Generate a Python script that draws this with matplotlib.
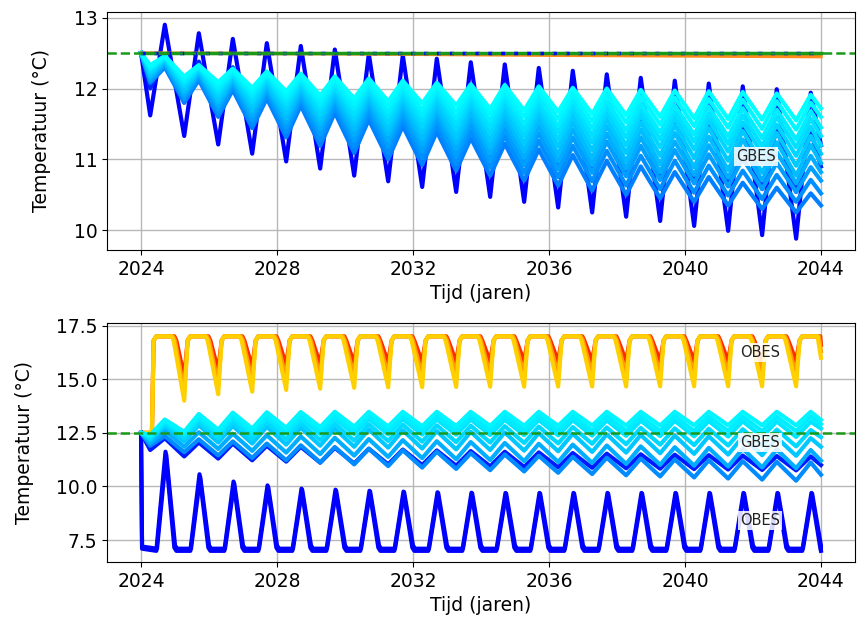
import matplotlib
matplotlib.use("Agg")
import matplotlib.pyplot as plt

# ---------------- data ----------------
YEARS = list(range(2024, 2044))          # 20 seasonal cycles
T_START, T_END = 2024.0, 2044.0
T0 = 12.5                                # start / reference temperature
TROUGH_PHASE, PEAK_PHASE = 0.27, 0.70    # position of trough / peak within a year

# --- top panel: GBES variants (blue -> cyan) ---
top_dark_peaks = [12.90, 12.78, 12.70, 12.64, 12.60, 12.55, 12.49, 12.47, 12.42, 12.37,
                  12.34, 12.29, 12.25, 12.20, 12.15, 12.11, 12.07, 12.03, 11.99, 11.94]
top_dark_troughs = [11.62, 11.33, 11.21, 11.08, 10.97, 10.87, 10.77, 10.69, 10.61, 10.54,
                    10.47, 10.40, 10.32, 10.25, 10.19, 10.13, 10.06, 9.99, 9.93, 9.88]
top_dark_end = 11.2

top_mid_peaks = [12.45, 12.38, 12.30, 12.22, 12.16, 12.10, 12.04, 11.98, 11.93, 11.88,
                 11.83, 11.78, 11.74, 11.69, 11.64, 11.60, 11.55, 11.50, 11.45, 11.40]
top_mid_troughs = [12.00, 11.80, 11.66, 11.54, 11.44, 11.35, 11.27, 11.19, 11.12, 11.05,
                   10.99, 10.93, 10.87, 10.82, 10.77, 10.72, 10.67, 10.62, 10.58, 10.54]
top_mid_end = 10.9

top_l7_peaks = [12.30, 12.12, 11.98, 11.86, 11.76, 11.66, 11.56, 11.47, 11.39, 11.30,
                11.22, 11.14, 11.06, 10.98, 10.90, 10.82, 10.75, 10.67, 10.60, 10.52]
top_l7_troughs = [12.08, 11.80, 11.60, 11.44, 11.31, 11.19, 11.09, 11.00, 10.92, 10.84,
                  10.77, 10.70, 10.63, 10.56, 10.50, 10.45, 10.40, 10.35, 10.30, 10.25]
top_l7_end = 10.35

top_l67_peaks = [12.32, 12.15, 12.02, 11.91, 11.82, 11.73, 11.64, 11.56, 11.48, 11.40,
                 11.33, 11.26, 11.19, 11.12, 11.05, 10.98, 10.91, 10.84, 10.78, 10.71]
top_l67_troughs = [12.10, 11.84, 11.65, 11.50, 11.38, 11.27, 11.18, 11.09, 11.02, 10.94,
                   10.88, 10.81, 10.75, 10.69, 10.63, 10.58, 10.53, 10.49, 10.44, 10.40]
top_l67_end = 10.52

top_l6_peaks = [12.34, 12.18, 12.06, 11.96, 11.87, 11.79, 11.71, 11.64, 11.57, 11.50,
                11.43, 11.37, 11.31, 11.25, 11.19, 11.13, 11.07, 11.01, 10.95, 10.89]
top_l6_troughs = [12.12, 11.87, 11.70, 11.56, 11.45, 11.35, 11.26, 11.18, 11.11, 11.04,
                  10.98, 10.92, 10.86, 10.81, 10.76, 10.71, 10.66, 10.62, 10.58, 10.54]
top_l6_end = 10.7

top_l56_peaks = [12.36, 12.21, 12.10, 12.00, 11.92, 11.85, 11.78, 11.71, 11.65, 11.59,
                 11.53, 11.47, 11.42, 11.36, 11.31, 11.25, 11.20, 11.15, 11.10, 11.05]
top_l56_troughs = [12.15, 11.91, 11.75, 11.62, 11.52, 11.43, 11.34, 11.27, 11.20, 11.14,
                   11.08, 11.02, 10.97, 10.92, 10.87, 10.82, 10.78, 10.74, 10.70, 10.66]
top_l56_end = 10.82

top_l5_peaks = [12.38, 12.23, 12.13, 12.04, 11.97, 11.90, 11.84, 11.78, 11.72, 11.67,
                11.62, 11.57, 11.52, 11.47, 11.42, 11.37, 11.32, 11.28, 11.24, 11.20]
top_l5_troughs = [12.17, 11.95, 11.80, 11.68, 11.58, 11.50, 11.42, 11.35, 11.29, 11.23,
                  11.17, 11.12, 11.07, 11.02, 10.97, 10.93, 10.89, 10.85, 10.81, 10.77]
top_l5_end = 10.95

top_l45_peaks = [12.40, 12.25, 12.16, 12.08, 12.02, 11.95, 11.90, 11.84, 11.79, 11.75,
                 11.70, 11.66, 11.61, 11.57, 11.52, 11.48, 11.44, 11.40, 11.37, 11.33]
top_l45_troughs = [12.20, 11.99, 11.85, 11.74, 11.65, 11.57, 11.50, 11.43, 11.38, 11.32,
                   11.27, 11.22, 11.18, 11.13, 11.09, 11.05, 11.02, 10.98, 10.95, 10.91]
top_l45_end = 11.08

top_l4_peaks = [12.42, 12.27, 12.19, 12.12, 12.06, 12.00, 11.95, 11.90, 11.86, 11.82,
                11.78, 11.74, 11.70, 11.66, 11.62, 11.58, 11.55, 11.52, 11.49, 11.46]
top_l4_troughs = [12.23, 12.03, 11.90, 11.80, 11.72, 11.64, 11.57, 11.51, 11.46, 11.41,
                  11.36, 11.32, 11.28, 11.24, 11.20, 11.17, 11.14, 11.11, 11.08, 11.05]
top_l4_end = 11.2

top_l35_peaks = [12.43, 12.29, 12.21, 12.15, 12.10, 12.04, 12.00, 11.95, 11.92, 11.88,
                 11.85, 11.81, 11.78, 11.74, 11.71, 11.67, 11.65, 11.62, 11.60, 11.57]
top_l35_troughs = [12.26, 12.07, 11.95, 11.86, 11.78, 11.71, 11.64, 11.59, 11.54, 11.50,
                   11.45, 11.41, 11.38, 11.34, 11.31, 11.28, 11.25, 11.22, 11.19, 11.17]
top_l35_end = 11.33

top_l3_peaks = [12.44, 12.30, 12.23, 12.18, 12.13, 12.08, 12.04, 12.00, 11.97, 11.94,
                11.91, 11.88, 11.85, 11.82, 11.79, 11.76, 11.74, 11.72, 11.70, 11.68]
top_l3_troughs = [12.28, 12.10, 11.99, 11.91, 11.84, 11.77, 11.71, 11.66, 11.62, 11.58,
                  11.54, 11.50, 11.47, 11.44, 11.41, 11.38, 11.35, 11.32, 11.30, 11.28]
top_l3_end = 11.45

top_l2_peaks = [12.45, 12.32, 12.26, 12.21, 12.17, 12.13, 12.09, 12.06, 12.03, 12.00,
                11.98, 11.96, 11.93, 11.91, 11.89, 11.87, 11.85, 11.84, 11.82, 11.80]
top_l2_troughs = [12.30, 12.14, 12.04, 11.96, 11.90, 11.84, 11.79, 11.74, 11.70, 11.67,
                  11.63, 11.60, 11.57, 11.54, 11.52, 11.49, 11.47, 11.45, 11.43, 11.42]
top_l2_end = 11.6

top_l1_peaks = [12.46, 12.33, 12.28, 12.24, 12.21, 12.17, 12.14, 12.11, 12.08, 12.06,
                12.05, 12.03, 12.01, 12.00, 11.98, 11.97, 11.96, 11.95, 11.93, 11.91]
top_l1_troughs = [12.33, 12.17, 12.09, 12.01, 11.96, 11.90, 11.86, 11.82, 11.79, 11.76,
                  11.71, 11.69, 11.67, 11.64, 11.62, 11.60, 11.58, 11.57, 11.56, 11.55]
top_l1_end = 11.72

# reference / near-constant lines in the top panel
orange_t = [2024.0, 2030.0, 2036.0, 2044.0]
orange_v = [12.50, 12.49, 12.47, 12.45]

# --- bottom panel: GBES band ---
bot_g1_peaks = [13.12, 13.38, 13.44, 13.46, 13.47, 13.48, 13.48, 13.48, 13.48, 13.48,
                13.48, 13.48, 13.48, 13.48, 13.48, 13.48, 13.48, 13.48, 13.48, 13.48]
bot_g1_troughs = [12.40, 12.55, 12.65, 12.70, 12.74, 12.77, 12.79, 12.80, 12.81, 12.82,
                  12.82, 12.83, 12.83, 12.84, 12.84, 12.84, 12.85, 12.85, 12.85, 12.85]
bot_g1_end = 13.1

bot_g15_peaks = [13.06, 13.27, 13.31, 13.32, 13.32, 13.32, 13.31, 13.31, 13.30, 13.30,
                 13.29, 13.29, 13.28, 13.28, 13.27, 13.27, 13.26, 13.26, 13.25, 13.25]
bot_g15_troughs = [12.35, 12.48, 12.55, 12.58, 12.60, 12.61, 12.61, 12.61, 12.61, 12.61,
                   12.61, 12.61, 12.60, 12.60, 12.60, 12.59, 12.59, 12.59, 12.58, 12.58]
bot_g15_end = 12.9

bot_g2_peaks = [13.00, 13.15, 13.18, 13.18, 13.17, 13.16, 13.15, 13.14, 13.13, 13.12,
                13.11, 13.10, 13.09, 13.08, 13.07, 13.06, 13.05, 13.04, 13.03, 13.02]
bot_g2_troughs = [12.30, 12.40, 12.45, 12.46, 12.46, 12.45, 12.44, 12.43, 12.42, 12.41,
                  12.40, 12.39, 12.38, 12.37, 12.36, 12.35, 12.34, 12.33, 12.32, 12.31]
bot_g2_end = 12.7

bot_g25_peaks = [12.90, 13.00, 13.00, 12.98, 12.95, 12.93, 12.90, 12.88, 12.85, 12.83,
                 12.81, 12.79, 12.77, 12.75, 12.73, 12.71, 12.69, 12.67, 12.65, 12.63]
bot_g25_troughs = [12.22, 12.25, 12.25, 12.23, 12.20, 12.17, 12.14, 12.12, 12.09, 12.07,
                   12.05, 12.03, 12.01, 11.99, 11.97, 11.95, 11.93, 11.91, 11.89, 11.87]
bot_g25_end = 12.3

bot_g3_peaks = [12.80, 12.85, 12.82, 12.78, 12.74, 12.70, 12.66, 12.62, 12.58, 12.55,
                12.52, 12.49, 12.46, 12.43, 12.40, 12.37, 12.34, 12.31, 12.28, 12.25]
bot_g3_troughs = [12.15, 12.10, 12.05, 12.00, 11.95, 11.90, 11.85, 11.81, 11.77, 11.73,
                  11.70, 11.67, 11.64, 11.61, 11.58, 11.55, 11.52, 11.49, 11.46, 11.43]
bot_g3_end = 11.85

bot_g35_peaks = [12.60, 12.53, 12.46, 12.39, 12.33, 12.27, 12.21, 12.16, 12.11, 12.07,
                 12.03, 11.99, 11.95, 11.91, 11.87, 11.83, 11.80, 11.76, 11.73, 11.70]
bot_g35_troughs = [12.02, 11.85, 11.75, 11.66, 11.58, 11.51, 11.44, 11.38, 11.32, 11.27,
                   11.23, 11.18, 11.14, 11.10, 11.05, 11.01, 10.97, 10.93, 10.89, 10.85]
bot_g35_end = 11.2

bot_g4_peaks = [12.35, 12.20, 12.10, 12.00, 11.92, 11.84, 11.76, 11.69, 11.62, 11.55,
                11.49, 11.43, 11.38, 11.34, 11.30, 11.26, 11.22, 11.18, 11.15, 11.12]
bot_g4_troughs = [11.90, 11.60, 11.45, 11.33, 11.22, 11.12, 11.03, 10.95, 10.88, 10.82,
                  10.76, 10.70, 10.64, 10.58, 10.52, 10.47, 10.42, 10.37, 10.32, 10.27]
bot_g4_end = 10.55

bot_g5_peaks = [12.25, 12.05, 12.00, 11.90, 11.85, 11.80, 11.76, 11.72, 11.68, 11.65,
                11.62, 11.59, 11.56, 11.53, 11.50, 11.48, 11.46, 11.44, 11.42, 11.40]
bot_g5_troughs = [11.70, 11.40, 11.30, 11.22, 11.16, 11.11, 11.07, 11.03, 11.00, 10.97,
                  10.94, 10.91, 10.89, 10.87, 10.85, 10.83, 10.81, 10.79, 10.77, 10.75]
bot_g5_end = 11.0

# --- bottom panel: OBES warm well (red -> yellow) ---
WARM_PLATEAU = 17.0
warm_red_troughs = [15.10, 15.40, 15.55, 15.65, 15.70, 15.74, 15.77, 15.79, 15.80, 15.81,
                    15.82, 15.82, 15.83, 15.83, 15.83, 15.84, 15.84, 15.84, 15.84]
warm_orange_troughs = [14.40, 14.75, 14.90, 15.00, 15.05, 15.10, 15.12, 15.14, 15.15, 15.16,
                       15.17, 15.18, 15.18, 15.18, 15.19, 15.19, 15.19, 15.19, 15.19]
warm_yellow_troughs = [14.00, 14.30, 14.42, 14.50, 14.56, 14.60, 14.62, 14.63, 14.64, 14.65,
                       14.65, 14.66, 14.66, 14.66, 14.67, 14.67, 14.67, 14.67, 14.67]
warm_ends = [16.6, 16.3, 16.0]

# --- bottom panel: OBES cold well (blue) ---
COLD_BASE = [7.1, 7.0]
cold_peaks_a = [11.62, 10.57, 10.23, 10.05, 9.90, 9.85, 9.80, 9.76, 9.73, 9.71,
                9.70, 9.70, 9.70, 9.70, 9.70, 9.70, 9.70, 9.70, 9.70, 9.70]
cold_peaks_b = [11.50, 10.45, 10.15, 9.98, 9.85, 9.80, 9.76, 9.73, 9.70, 9.68,
                9.67, 9.67, 9.67, 9.67, 9.67, 9.67, 9.67, 9.67, 9.67, 9.67]

# label positions (year, temperature)
top_labels = [("GBES", 2042.1, 11.04)]
bot_labels = [("OBES", 2042.2, 16.24), ("GBES", 2042.2, 12.06), ("OBES", 2042.2, 8.43)]


# ---------------- helpers ----------------
def zigzag(troughs, peaks, end):
    t, v = [T_START], [T0]
    for y, tr, pk in zip(YEARS, troughs, peaks):
        t += [y + TROUGH_PHASE, y + PEAK_PHASE]
        v += [tr, pk]
    t.append(T_END)
    v.append(end)
    return t, v


def warm_curve(troughs, end, fall_start):
    t = [T_START, 2024.32, 2024.37, 2024.45]
    v = [T0, T0, WARM_PLATEAU - 0.2, WARM_PLATEAU]
    for y, tr in zip(YEARS[:-1], troughs):
        t += [y + fall_start, y + fall_start + 0.06, y + 1.27, y + 1.37, y + 1.45]
        v += [WARM_PLATEAU, WARM_PLATEAU - 0.2, tr, WARM_PLATEAU - 0.2, WARM_PLATEAU]
    t += [YEARS[-1] + fall_start, T_END]
    v += [WARM_PLATEAU, end]
    return t, v


def cold_curve(peaks, base, shift):
    t, v = [T_START, 2024.03], [T0, base + 0.1]
    for y, pk in zip(YEARS, peaks):
        t += [y + 0.45 + shift, y + 0.72 + shift, y + 0.98 + shift, y + 1.04 + shift]
        v += [base, pk, base + 0.15, base]
    t[-1] = T_END
    return t, v


def blue_cyan(g):
    return (0.0, g, 1.0)


# ---------------- figure ----------------
plt.rcParams['font.family'] = ['DejaVu Sans']
fig = plt.figure(figsize=(8.57, 6.25), dpi=100)
ax1 = fig.add_axes([0.1249, 0.600, 0.8727, 0.3808])
ax2 = fig.add_axes([0.1249, 0.1008, 0.8727, 0.3824])

LW = 3.0
for ax in (ax1, ax2):
    ax.grid(True, color='#b8b8b8', linewidth=1.0)
    ax.set_axisbelow(True)

# top panel (darkest first, cyan last on top)
top_series = [
    (top_dark_troughs, top_dark_peaks, top_dark_end, 0.0),
    (top_mid_troughs, top_mid_peaks, top_mid_end, 0.15),
    (top_l7_troughs, top_l7_peaks, top_l7_end, 0.50),
    (top_l67_troughs, top_l67_peaks, top_l67_end, 0.56),
    (top_l6_troughs, top_l6_peaks, top_l6_end, 0.62),
    (top_l56_troughs, top_l56_peaks, top_l56_end, 0.68),
    (top_l5_troughs, top_l5_peaks, top_l5_end, 0.74),
    (top_l45_troughs, top_l45_peaks, top_l45_end, 0.79),
    (top_l4_troughs, top_l4_peaks, top_l4_end, 0.84),
    (top_l35_troughs, top_l35_peaks, top_l35_end, 0.88),
    (top_l3_troughs, top_l3_peaks, top_l3_end, 0.93),
    (top_l2_troughs, top_l2_peaks, top_l2_end, 0.97),
    (top_l1_troughs, top_l1_peaks, top_l1_end, 1.0),
]
for tr, pk, end, g in top_series:
    t, v = zigzag(tr, pk, end)
    ax1.plot(t, v, color=blue_cyan(g), linewidth=LW)

ax1.plot(orange_t, orange_v, color='#ff8c1a', linewidth=2.5)
ax1.plot([T_START, T_END], [T0, T0], color='#1a9a1a', linewidth=2.5)
ax1.plot([T_START, T_END], [T0, T0], color='#0000ff', linewidth=2.5,
         linestyle=(0, (1.2, 2.5)))
ax1.axhline(T0, color='#1a9a1a', linestyle='--', linewidth=1.8)

# bottom panel
for tr, end, fs, col in zip([warm_red_troughs, warm_orange_troughs, warm_yellow_troughs],
                            warm_ends, [0.98, 0.94, 0.90],
                            ['#ff2a00', '#ff9900', '#ffd000']):
    t, v = warm_curve(tr, end, fs)
    ax2.plot(t, v, color=col, linewidth=LW)

for pk, base, sh in zip([cold_peaks_b, cold_peaks_a], COLD_BASE, [0.02, 0.0]):
    t, v = cold_curve(pk, base, sh)
    ax2.plot(t, v, color='#0000ff', linewidth=LW)

bot_series = [
    (bot_g5_troughs, bot_g5_peaks, bot_g5_end, 0.10),
    (bot_g4_troughs, bot_g4_peaks, bot_g4_end, 0.55),
    (bot_g35_troughs, bot_g35_peaks, bot_g35_end, 0.68),
    (bot_g3_troughs, bot_g3_peaks, bot_g3_end, 0.78),
    (bot_g25_troughs, bot_g25_peaks, bot_g25_end, 0.85),
    (bot_g2_troughs, bot_g2_peaks, bot_g2_end, 0.90),
    (bot_g15_troughs, bot_g15_peaks, bot_g15_end, 0.93),
    (bot_g1_troughs, bot_g1_peaks, bot_g1_end, 0.96),
]
for tr, pk, end, g in bot_series:
    t, v = zigzag(tr, pk, end)
    ax2.plot(t, v, color=blue_cyan(g), linewidth=LW)

ax2.axhline(T0, color='#1a9a1a', linestyle='--', linewidth=1.8)

# labels
box = dict(facecolor='white', edgecolor='none', alpha=0.85, pad=1.5)
for txt, x, y in top_labels:
    ax1.text(x, y, txt, fontsize=10.5, ha='center', va='center', color='#222222', bbox=box)
for txt, x, y in bot_labels:
    ax2.text(x, y, txt, fontsize=10.5, ha='center', va='center', color='#222222', bbox=box)

xt = [2024, 2028, 2032, 2036, 2040, 2044]
for ax in (ax1, ax2):
    ax.set_xticks(xt)
    ax.set_xticklabels([str(x) for x in xt])
    ax.tick_params(labelsize=13.5)
    ax.set_xlabel('Tijd (jaren)', fontsize=13.5)
    ax.set_ylabel('Temperatuur (°C)', fontsize=13.5, labelpad=16)

ax1.set_yticks([10, 11, 12, 13])
ax1.set_yticklabels(['10', '11', '12', '13'])
ax2.set_yticks([7.5, 10.0, 12.5, 15.0, 17.5])
ax2.set_yticklabels(['7.5', '10.0', '12.5', '15.0', '17.5'])
ax1.set_xlim(2023, 2045)
ax2.set_xlim(2023, 2045)
ax1.set_ylim(9.72, 13.08)
ax2.set_ylim(6.48, 17.62)

fig.savefig('out.png', dpi=100)
